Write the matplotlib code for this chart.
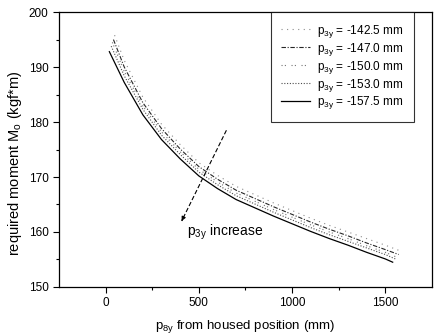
import numpy as np
import matplotlib
matplotlib.use("Agg")
import matplotlib.pyplot as plt

plt.rcParams['font.family'] = ['Liberation Sans', 'DejaVu Sans']
plt.rcParams['mathtext.fontset'] = 'custom'
plt.rcParams['mathtext.rm'] = 'Liberation Sans'
plt.rcParams['mathtext.it'] = 'Liberation Sans:italic'

# data (x in mm, M0 in kgf*m)
labels = ["-142.5", "-147.0", "-150.0", "-153.0", "-157.5"]

x_1425 = [48, 100, 200, 300, 400, 500, 600, 700, 800, 900, 1000, 1100, 1200, 1300, 1400, 1500, 1585]
m_1425 = [195.8, 191.2, 184.5, 179.6, 175.9, 172.6, 170.3, 168.3, 166.8, 165.3, 163.9, 162.5, 161.2, 160.0, 158.8, 157.6, 156.5]

x_1470 = [42, 100, 200, 300, 400, 500, 600, 700, 800, 900, 1000, 1100, 1200, 1300, 1400, 1500, 1572]
m_1470 = [195.0, 190.0, 183.5, 178.8, 175.1, 171.9, 169.6, 167.6, 166.1, 164.6, 163.2, 161.8, 160.5, 159.3, 158.0, 156.8, 155.9]

x_1500 = [36, 100, 200, 300, 400, 500, 600, 700, 800, 900, 1000, 1100, 1200, 1300, 1400, 1500, 1563]
m_1500 = [194.5, 189.2, 182.9, 178.2, 174.6, 171.4, 169.1, 167.1, 165.6, 164.1, 162.7, 161.3, 160.0, 158.8, 157.5, 156.3, 155.4]

x_1530 = [30, 100, 200, 300, 400, 500, 600, 700, 800, 900, 1000, 1100, 1200, 1300, 1400, 1500, 1554]
m_1530 = [193.8, 188.4, 182.3, 177.6, 174.1, 170.9, 168.6, 166.6, 165.1, 163.6, 162.2, 160.8, 159.5, 158.3, 157.1, 155.9, 155.1]

x_1575 = [20, 100, 200, 300, 400, 500, 600, 700, 800, 900, 1000, 1100, 1200, 1300, 1400, 1500, 1540]
m_1575 = [192.8, 187.2, 181.3, 176.8, 173.3, 170.2, 167.9, 165.9, 164.4, 162.9, 161.5, 160.1, 158.8, 157.6, 156.3, 155.1, 154.5]

arrow_start = (648, 178.5)
arrow_end = (408, 162.0)

fig = plt.figure(figsize=(4.34, 3.36), dpi=100)
ax = fig.add_axes([0.136, 0.146, 0.859, 0.818])

styles = [
    dict(color='0.55', ls=(0, (1, 4)), lw=0.8),
    dict(color='0.15', ls=(0, (4, 1.5, 1, 1.5)), lw=0.8),
    dict(color='0.45', ls=(0, (1, 2, 1, 5)), lw=0.8),
    dict(color='0.3', ls=(0, (1, 1.5)), lw=0.8),
    dict(color='black', ls='-', lw=0.9),
]
series = [(x_1425, m_1425), (x_1470, m_1470), (x_1500, m_1500), (x_1530, m_1530), (x_1575, m_1575)]

for (xs, ms), lab, st in zip(series, labels, styles):
    ax.plot(xs, ms, label=r"p$_\mathrm{3y}$ = " + lab + " mm", **st)

# p3y increase arrow
ax.plot([arrow_start[0], arrow_end[0]], [arrow_start[1], arrow_end[1]],
        color='black', lw=0.8, ls=(0, (4, 2)))
ax.annotate('', xy=arrow_end, xytext=(arrow_end[0] + 10, arrow_end[1] + 0.7),
            arrowprops=dict(arrowstyle='-|>', color='black', lw=0.8, mutation_scale=6))
ax.text(434, 160.0, r"p$_\mathrm{3y}$ increase", fontsize=10, va='center', ha='left')

ax.set_xlim(-250, 1750)
ax.set_ylim(150, 200)
ax.set_xticks([0, 500, 1000, 1500])
ax.set_xticks([250, 750, 1250], minor=True)
ax.set_yticks([150, 160, 170, 180, 190, 200])
ax.set_yticks([155, 165, 175, 185, 195], minor=True)
ax.tick_params(axis='both', which='major', direction='out', length=4, width=0.8, labelsize=8.5)
ax.tick_params(axis='both', which='minor', direction='out', length=2.5, width=0.8)
ax.tick_params(top=False, right=False)
for sp in ax.spines.values():
    sp.set_linewidth(0.9)

ax.set_xlabel(r"p$_\mathrm{8y}$ from housed position (mm)", fontsize=9.5, labelpad=6)
ax.set_ylabel(r"required moment M$_\mathrm{o}$ (kgf*m)", fontsize=10.5)
ax.yaxis.set_label_coords(-0.095, 0.45)

leg = ax.legend(loc='upper right', bbox_to_anchor=(0.952, 1.0), fontsize=8.5,
                frameon=True, fancybox=False, edgecolor='black', handlelength=2.4,
                handletextpad=0.6, labelspacing=0.08, borderaxespad=0.0, borderpad=0.9)
leg.get_frame().set_linewidth(0.8)

fig.savefig("out.png", dpi=100)
